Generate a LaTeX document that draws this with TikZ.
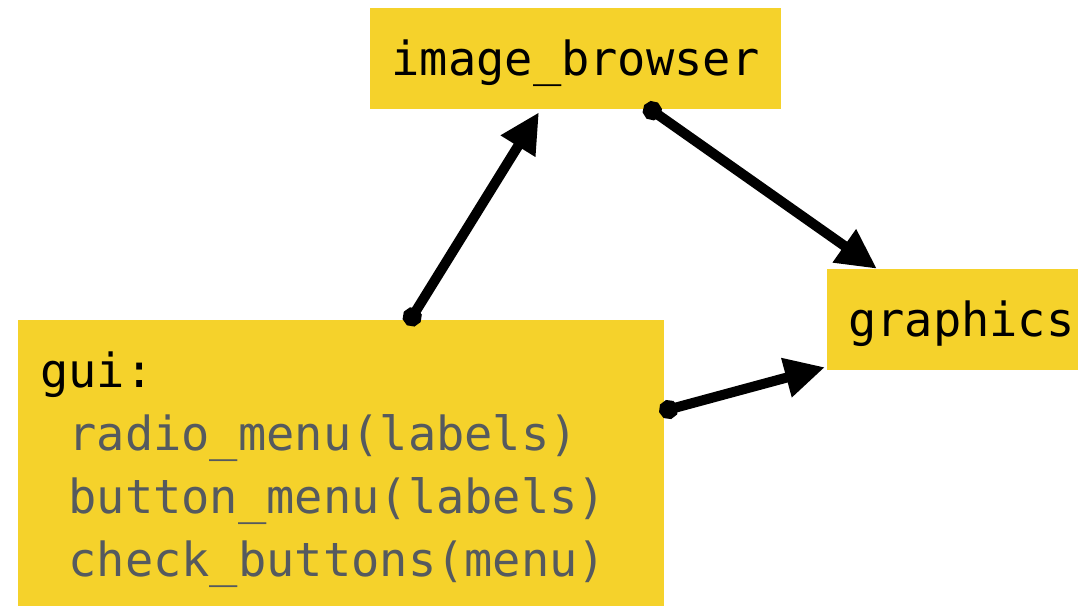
\documentclass[tikz,border=0pt]{standalone}
\usepackage{fontspec}
\usepackage{tikz}
\usetikzlibrary{arrows.meta, calc, positioning}
\newfontfamily\codefont{DejaVu Sans Mono}
\definecolor{boxyellow}{HTML}{F5D22B}
\definecolor{codegray}{HTML}{555A5F}

\begin{document}
\begin{tikzpicture}[x=1pt, y=-1pt, >={Triangle[length=40pt, width=38pt]},
	module/.style={fill=boxyellow, draw=none, inner xsep=0pt, font=\codefont\fontsize{47}{63}\selectfont, text height=40pt, text depth=7pt},
	dep/.style={{Circle[length=19pt]}->, line width=10pt, line cap=round, black}]

		\useasboundingbox (0,0) rectangle (1078,605);

		% Modules
		\node[module, minimum width=411pt, minimum height=101pt] (browser) at (575.5,58.5) {image\_browser};

		\node[module, anchor=west, inner xsep=21pt, minimum height=101pt] (graphics) at (827,319.5) {graphics};

		\node[module, anchor=north west, align=left, text width=602pt, inner xsep=22pt, inner ysep=20pt, text height=, text depth=, minimum height=285pt] (gui) at (18,320)
			{\rule{0pt}{47pt}gui:\\
			{\color{codegray}\phantom{x}radio\_menu(labels)}\\
			{\color{codegray}\phantom{x}button\_menu(labels)}\\
			{\color{codegray}\phantom{x}check\_buttons(menu)}};

		% Arrows
		\draw[dep] ([xshift=66pt, yshift=-5pt]gui.north) -- ([xshift=-36.5pt, yshift=-3pt]browser.south);
		\draw[dep] ([xshift=69pt, yshift=4pt]browser.south) -- ([xshift=50pt]graphics.north west);
		\draw[dep] ([xshift=-5pt, yshift=-92pt]gui.north east) -- ([xshift=-2pt, yshift=3pt]graphics.south west);
	\end{tikzpicture}
\end{document}
